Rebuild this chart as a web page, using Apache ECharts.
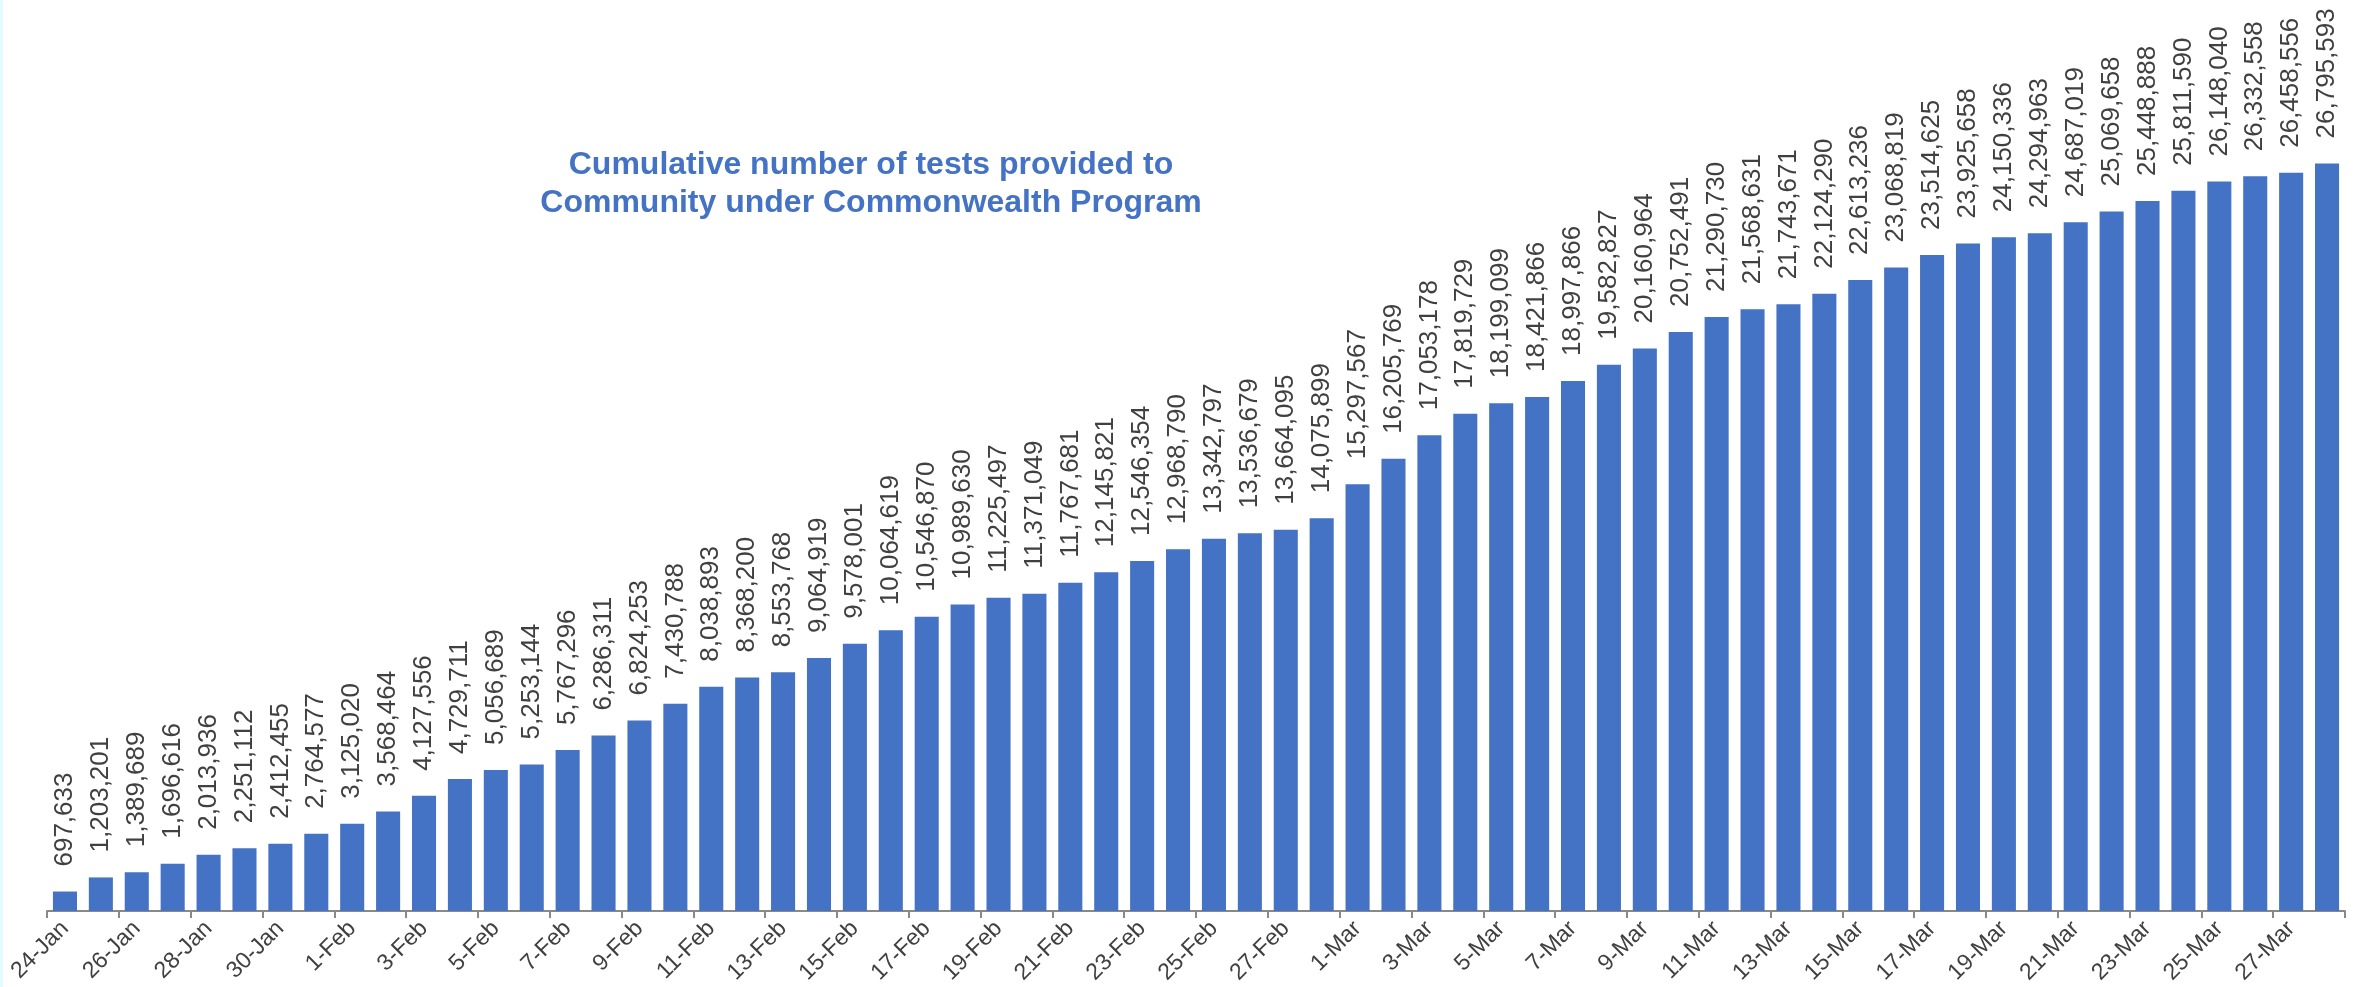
<!DOCTYPE html>
<html>
<head>
<meta charset="utf-8">
<script src="https://cdn.jsdelivr.net/npm/echarts@6/dist/echarts.min.js"></script>
<style>
  html, body { margin: 0; padding: 0; background: #ffffff; }
  #chart { width: 2362px; height: 987px; }
  #edge { position: absolute; left: 0; top: 0; width: 3px; height: 987px; background: #e4fbfb; }
</style>
</head>
<body>
<div id="chart"></div>
<div id="edge"></div>
<script>
const categories = [
  '24-Jan','25-Jan','26-Jan','27-Jan','28-Jan','29-Jan','30-Jan','31-Jan',
  '1-Feb','2-Feb','3-Feb','4-Feb','5-Feb','6-Feb','7-Feb','8-Feb','9-Feb','10-Feb',
  '11-Feb','12-Feb','13-Feb','14-Feb','15-Feb','16-Feb','17-Feb','18-Feb','19-Feb','20-Feb',
  '21-Feb','22-Feb','23-Feb','24-Feb','25-Feb','26-Feb','27-Feb','28-Feb',
  '1-Mar','2-Mar','3-Mar','4-Mar','5-Mar','6-Mar','7-Mar','8-Mar','9-Mar','10-Mar',
  '11-Mar','12-Mar','13-Mar','14-Mar','15-Mar','16-Mar','17-Mar','18-Mar','19-Mar','20-Mar',
  '21-Mar','22-Mar','23-Mar','24-Mar','25-Mar','26-Mar','27-Mar','28-Mar'
];

const cumulativeTests = [
  697633, 1203201, 1389689, 1696616, 2013936, 2251112, 2412455, 2764577,
  3125020, 3568464, 4127556, 4729711, 5056689, 5253144, 5767296, 6286311, 6824253, 7430788,
  8038893, 8368200, 8553768, 9064919, 9578001, 10064619, 10546870, 10989630, 11225497, 11371049,
  11767681, 12145821, 12546354, 12968790, 13342797, 13536679, 13664095, 14075899,
  15297567, 16205769, 17053178, 17819729, 18199099, 18421866, 18997866, 19582827, 20160964, 20752491,
  21290730, 21568631, 21743671, 22124290, 22613236, 23068819, 23514625, 23925658, 24150336, 24294963,
  24687019, 25069658, 25448888, 25811590, 26148040, 26332558, 26458556, 26795593
];

const titleLines = ['Cumulative number of tests provided to', 'Community under Commonwealth Program'];

const FONT = "'Liberation Sans', Arial, sans-serif";
const chart = echarts.init(document.getElementById('chart'), null, { renderer: 'canvas' });

chart.setOption({
  animation: false,
  backgroundColor: '#ffffff',
  title: {
    text: titleLines.join('\n'),
    left: 866,
    top: 141,
    textAlign: 'center',
    textStyle: {
      color: '#4472C4',
      fontFamily: FONT,
      fontWeight: 'bold',
      fontSize: 32,
      lineHeight: 38
    }
  },
  grid: { left: 47, right: 17, top: 74, bottom: 76, containLabel: false },
  xAxis: {
    type: 'category',
    data: categories,
    boundaryGap: true,
    axisLine: { show: true, lineStyle: { color: '#898989', width: 2 } },
    axisTick: { show: true, interval: 1, length: 7, lineStyle: { color: '#898989', width: 2 } },
    axisLabel: {
      interval: 1,
      rotate: 45,
      margin: 14,
      color: '#404040',
      fontFamily: FONT,
      fontSize: 23
    }
  },
  yAxis: {
    type: 'value',
    min: 0,
    max: 30000000,
    show: false,
    splitLine: { show: false }
  },
  series: [{
    type: 'bar',
    data: cumulativeTests,
    barCategoryGap: '33%',
    itemStyle: { color: '#4472C4' },
    label: {
      show: true,
      position: 'top',
      rotate: 90,
      align: 'left',
      verticalAlign: 'middle',
      distance: 25,
      color: '#404040',
      fontFamily: FONT,
      fontSize: 26,
      formatter: p => p.value.toLocaleString('en-US')
    }
  }]
});
</script>
</body>
</html>
